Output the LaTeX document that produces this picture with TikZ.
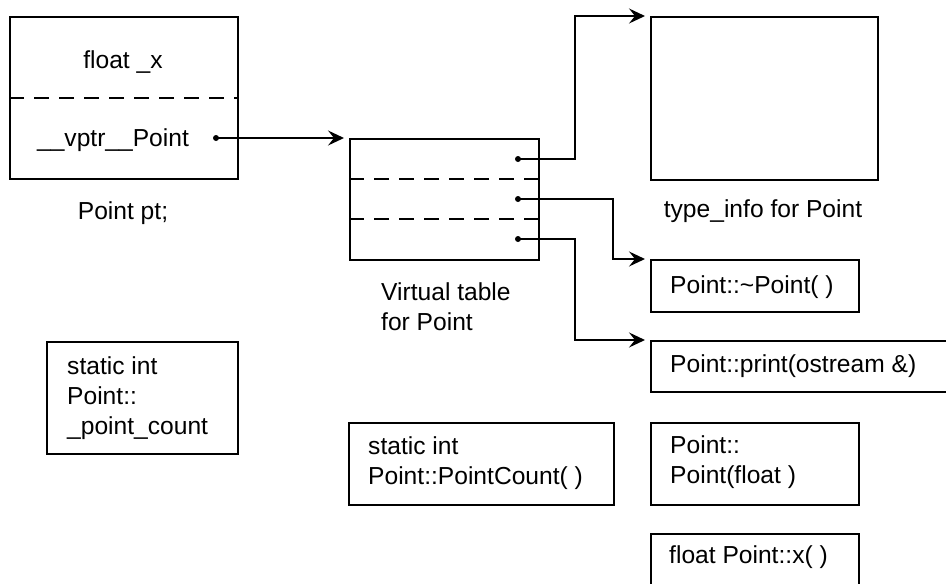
\documentclass[tikz,border=0pt]{standalone}
\usepackage{fontspec}
\setmainfont{Liberation Sans}
\usetikzlibrary{arrows.meta}
\begin{document}
\begin{tikzpicture}[x=1pt,y=-1pt,
  frame/.style={draw, line width=2.2pt, anchor=north west, inner sep=0pt},
  txt/.style={font=\fontsize{24.6}{30}\selectfont, inner sep=0pt, align=left},
  sep/.style={line width=2pt, dash pattern=on 15pt off 10pt},
  link/.style={line width=2pt, -{Stealth[length=16pt,width=15pt,inset=6pt]}, shorten >=5pt},
  dot/.style={circle, fill, inner sep=0pt, minimum size=6pt}]
\useasboundingbox (0,0) rectangle (946,584);
\clip (0,0) rectangle (946,584);

% the object pt
\node[frame, minimum width=228pt, minimum height=162pt] (obj) at (9,16) {};
\draw[sep] (obj.west) -- (obj.east);
\node[txt] (fx) at (123,62) {float \_x};
\node[txt] (vp) at (113,140) {\_\_vptr\_\_Point};
\node[dot] (vpd) at (216,138) {};
\node[txt] (ptl) at (123,213) {Point pt;};

% virtual table
\node[frame, minimum width=189pt, minimum height=121pt] (vt) at (349,138) {};
\draw[sep] (vt.north west) ++(0,41) -- ++(189,0);
\draw[sep] (vt.north west) ++(0,81) -- ++(189,0);
\node[dot] (s1) at (518,159) {};
\node[dot] (s2) at (518,199) {};
\node[dot] (s3) at (518,239) {};
\node[txt, anchor=west] (vtl) at (381,307) {Virtual table\\for Point};

% type_info
\node[frame, minimum width=227pt, minimum height=163pt] (ti) at (650,16) {};
\node[txt] (til) at (763,211) {type\_info for Point};

% member functions
\node[frame, minimum width=208pt, minimum height=52pt] (dtor) at (650,259) {};
\node[txt, anchor=west] (dtorl) at (670,287) {Point::\textasciitilde Point( )};
\node[frame, minimum width=310pt, minimum height=51pt] (pr) at (650,340) {};
\node[txt, anchor=west] (prl) at (670,366) {Point::print(ostream \&)};
\node[frame, minimum width=208pt, minimum height=82pt] (ctor) at (650,422) {};
\node[txt, anchor=west] (ctorl) at (670,462) {Point::\\Point(float )};
\node[frame, minimum width=208pt, minimum height=62pt] (xf) at (650,533) {};
\node[txt, anchor=west] (xfl) at (669,557) {float Point::x( )};

% static members
\node[frame, minimum width=191pt, minimum height=112pt] (sc) at (46,341) {};
\node[txt, anchor=west] (scl) at (67,398) {static int\\Point::\\\_point\_count};
\node[frame, minimum width=265pt, minimum height=82pt] (pc) at (348,422) {};
\node[txt, anchor=west] (pcl) at (368,463) {static int\\Point::PointCount( )};

% pointers
\draw[link] (vpd.center) -- (vt.north west);
\draw[link] (s1.center) -- ++(57,0) |- (ti.north west);
\draw[link] (s2.center) -- ++(95,0) |- (dtor.north west);
\draw[link] (s3.center) -- ++(57,0) |- (pr.north west);
\end{tikzpicture}
\end{document}
